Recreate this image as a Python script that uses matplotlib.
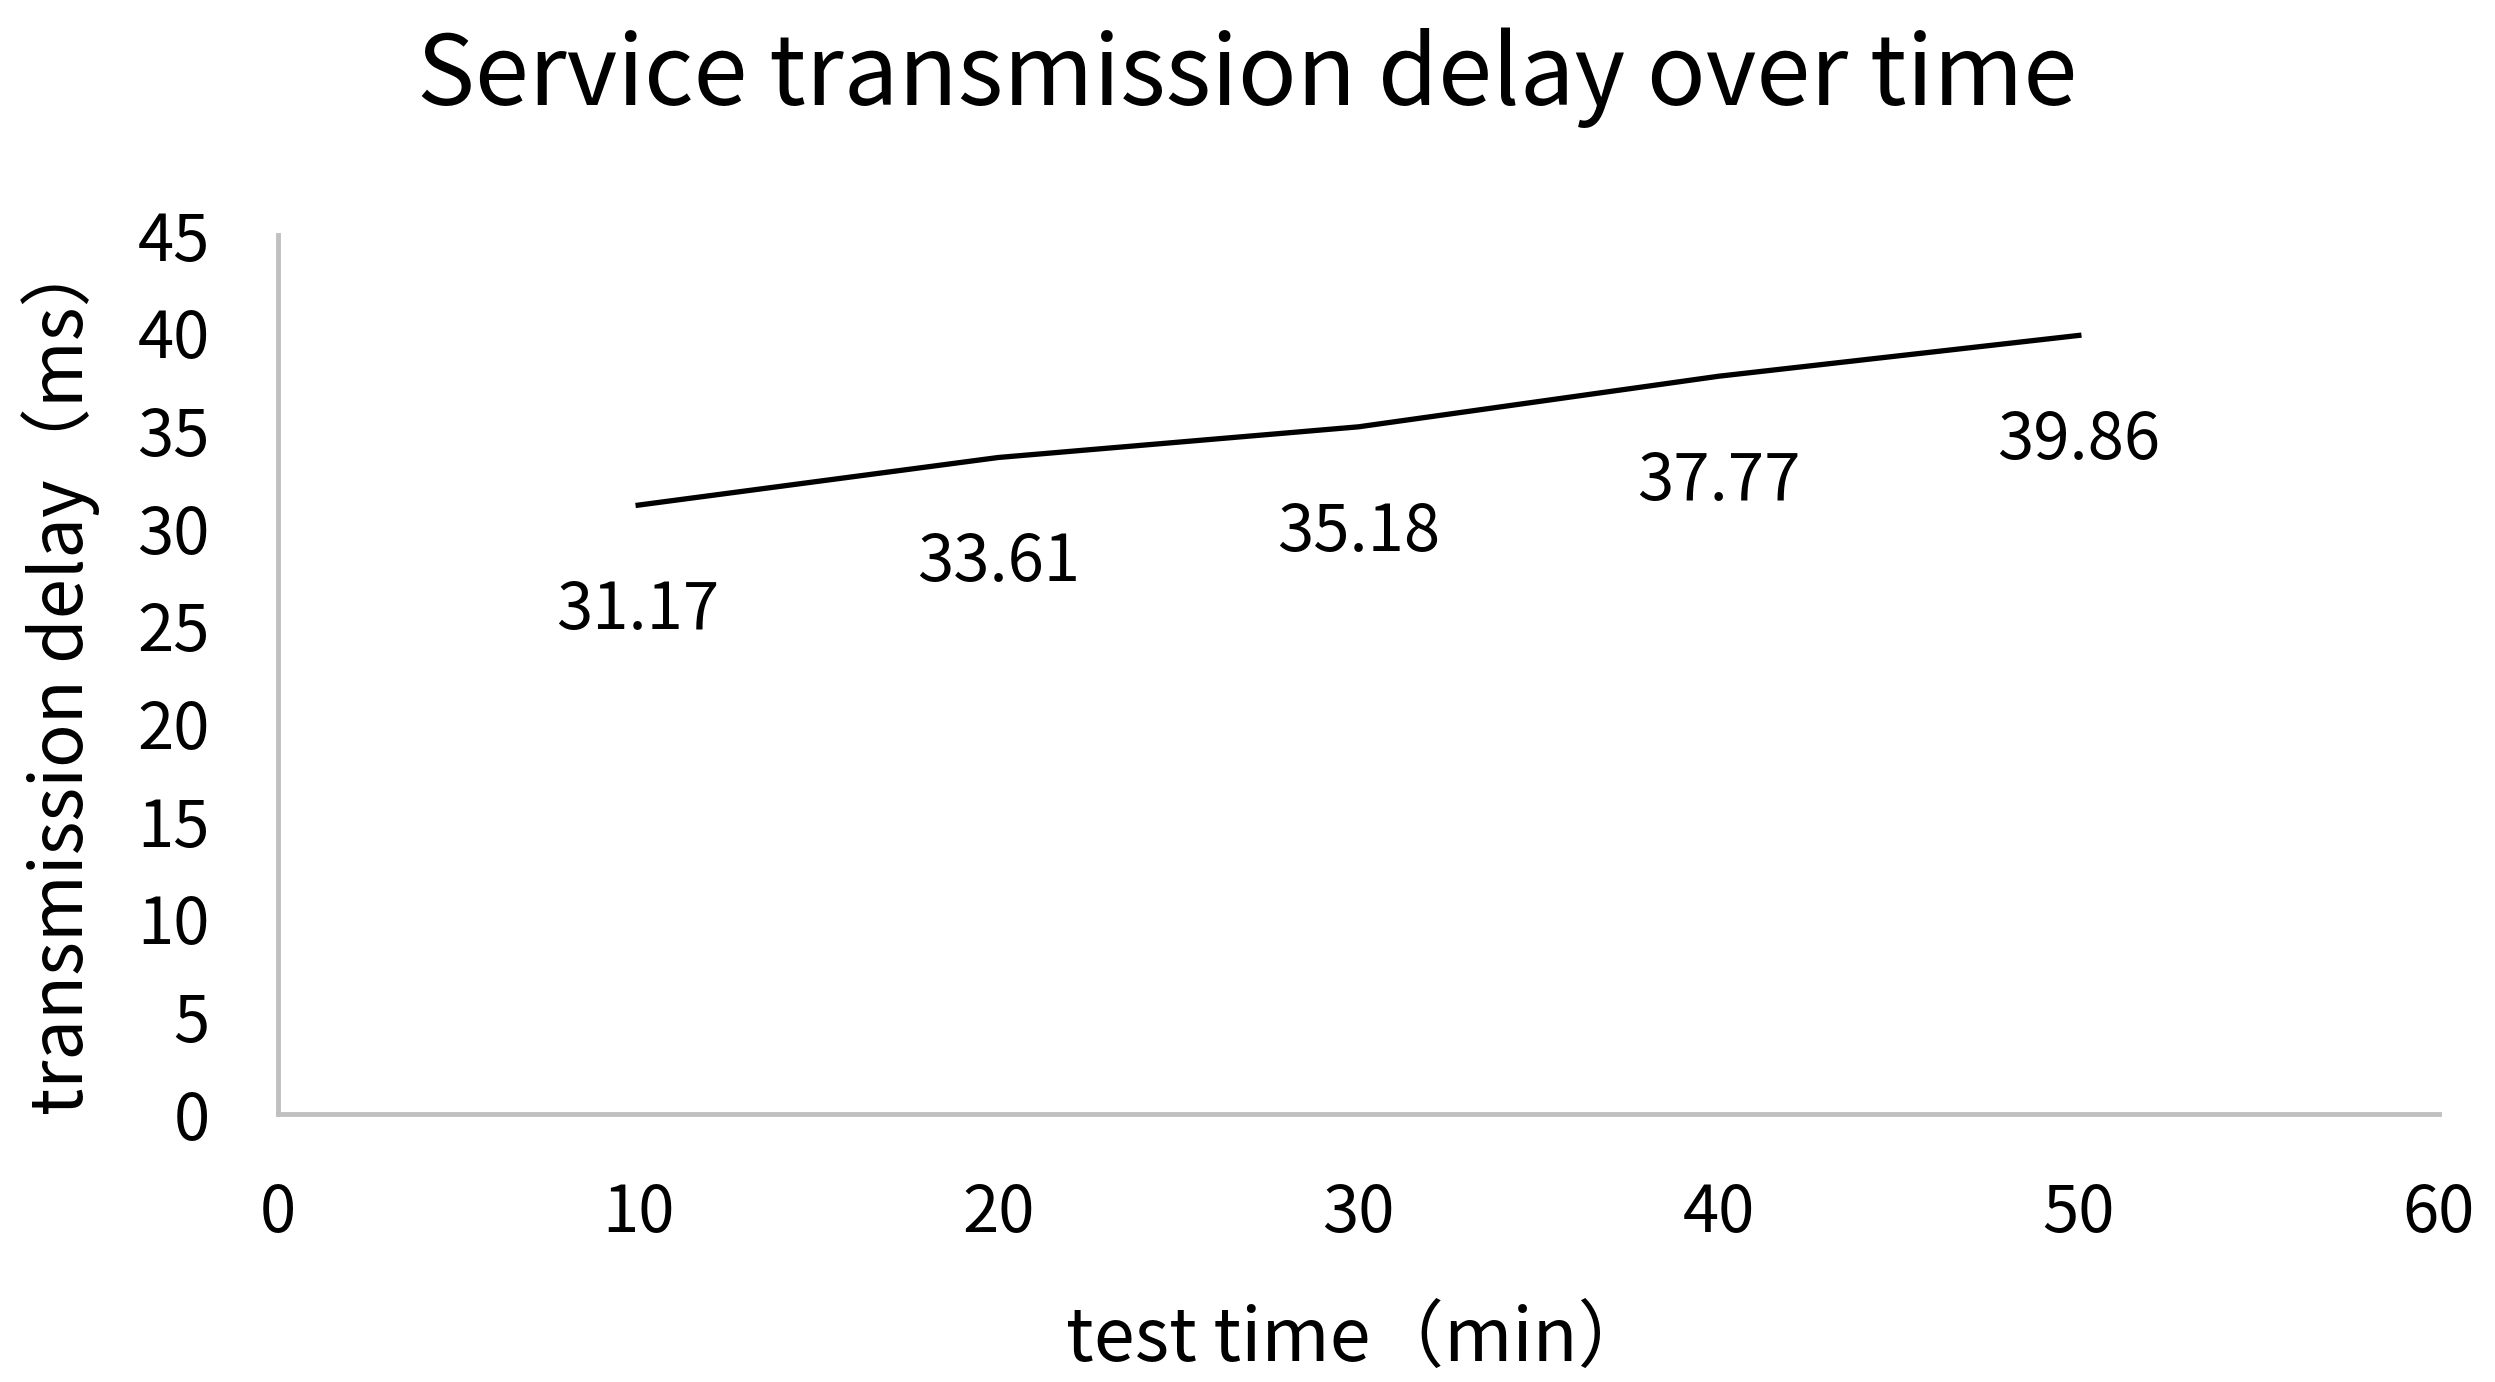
import matplotlib.pyplot as plt

# test time (min) and measured transmission delay (ms)
test_time = [10, 20, 30, 40, 50]
delay_ms = [31.17, 33.61, 35.18, 37.77, 39.86]
x_ticks = [0, 10, 20, 30, 40, 50, 60]
y_ticks = [0, 5, 10, 15, 20, 25, 30, 35, 40, 45]

plt.rcParams['font.family'] = ['Noto Sans CJK SC', 'DejaVu Sans']

fig = plt.figure(figsize=(24.95, 13.82), dpi=100)
ax = fig.add_axes([278 / 2495, 1 - 1114 / 1382, (2439 - 278) / 2495, (1114 - 235) / 1382])

ax.plot(test_time, delay_ms, color='black', linewidth=3.8)

# value labels sit below each point
for x, y in zip(test_time, delay_ms):
    ax.annotate(f"{y:.2f}", (x, y), xytext=(0, -76), textcoords='offset points',
                ha='center', va='center', fontsize=47)

ax.set_xlim(0, 60)
ax.set_ylim(0, 45)
ax.set_xticks(x_ticks)
ax.set_yticks(y_ticks)
ax.tick_params(length=0, labelsize=47)
ax.tick_params(axis='x', pad=48)
ax.tick_params(axis='y', pad=49)

for side in ['top', 'right']:
    ax.spines[side].set_visible(False)
for side in ['left', 'bottom']:
    ax.spines[side].set_color('#c0c0c0')
    ax.spines[side].set_linewidth(3.5)

ax.set_xlabel("test time（min）", fontsize=53, labelpad=40)
ax.set_ylabel("transmission delay（ms）", fontsize=52, labelpad=27)
fig.suptitle("Service transmission delay over time", fontsize=70, y=0.98)

fig.savefig("out.png", dpi=100)
